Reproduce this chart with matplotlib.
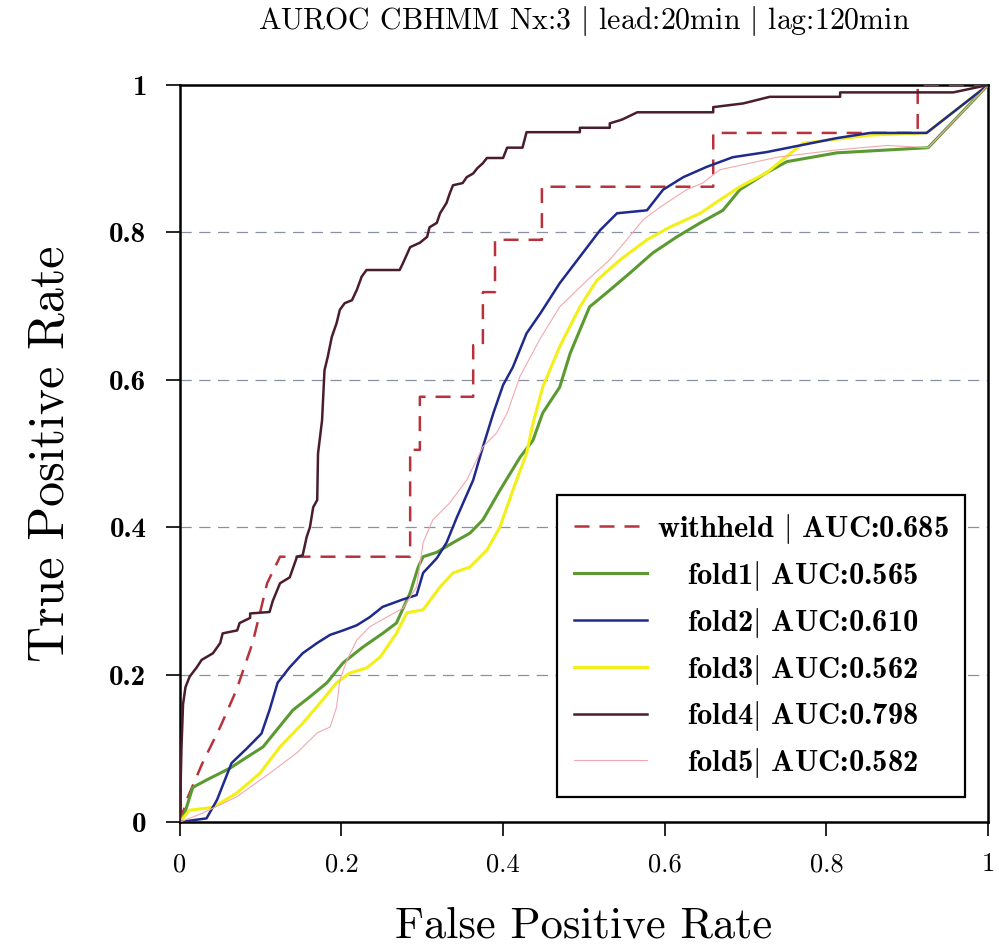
import matplotlib
matplotlib.use("Agg")
import matplotlib.pyplot as plt
import numpy as np

plt.rcParams["mathtext.fontset"] = "cm"
plt.rcParams["axes.formatter.use_mathtext"] = True

# ROC curves (false positive rate, true positive rate)
withheld_fpr = [0.0, 0.010, 0.028, 0.050, 0.070, 0.090, 0.101, 0.108, 0.124, 0.285, 0.285, 0.297,
                0.297, 0.363, 0.363, 0.375, 0.375, 0.390, 0.390, 0.448, 0.448, 0.660, 0.660, 0.913,
                0.913, 1.0]
withheld_tpr = [0.0, 0.034, 0.080, 0.129, 0.179, 0.243, 0.292, 0.324, 0.360, 0.360, 0.505, 0.505,
                0.577, 0.577, 0.647, 0.647, 0.719, 0.719, 0.790, 0.790, 0.862, 0.862, 0.935, 0.935,
                1.0, 1.0]

fold1_fpr = [0.0, 0.006, 0.016, 0.033, 0.062, 0.083, 0.103, 0.120, 0.140, 0.161, 0.182, 0.202,
             0.226, 0.251, 0.268, 0.285, 0.295, 0.301, 0.318, 0.338, 0.359, 0.375, 0.396, 0.421,
             0.437, 0.449, 0.470, 0.483, 0.507, 0.528, 0.557, 0.585, 0.615, 0.644, 0.672, 0.693,
             0.726, 0.751, 0.813, 0.926, 1.0]
fold1_tpr = [0.0, 0.012, 0.047, 0.057, 0.073, 0.088, 0.102, 0.125, 0.152, 0.170, 0.189, 0.216,
             0.237, 0.256, 0.270, 0.311, 0.346, 0.360, 0.366, 0.379, 0.392, 0.410, 0.450, 0.495,
             0.518, 0.555, 0.590, 0.636, 0.699, 0.718, 0.745, 0.772, 0.794, 0.813, 0.830, 0.858,
             0.881, 0.896, 0.908, 0.915, 1.0]

fold2_fpr = [0.0, 0.033, 0.046, 0.064, 0.083, 0.101, 0.111, 0.121, 0.136, 0.152, 0.170, 0.186,
             0.202, 0.219, 0.235, 0.251, 0.276, 0.293, 0.301, 0.318, 0.330, 0.343, 0.363, 0.375,
             0.388, 0.400, 0.412, 0.429, 0.446, 0.470, 0.495, 0.520, 0.541, 0.578, 0.598, 0.623,
             0.652, 0.684, 0.726, 0.813, 0.854, 0.924, 1.0]
fold2_tpr = [0.0, 0.005, 0.030, 0.080, 0.100, 0.120, 0.152, 0.189, 0.210, 0.229, 0.243, 0.254,
             0.260, 0.267, 0.278, 0.292, 0.302, 0.308, 0.338, 0.358, 0.379, 0.414, 0.464, 0.509,
             0.555, 0.593, 0.617, 0.663, 0.690, 0.731, 0.767, 0.803, 0.826, 0.830, 0.858, 0.875,
             0.889, 0.902, 0.909, 0.928, 0.935, 0.935, 1.0]

fold3_fpr = [0.0, 0.012, 0.041, 0.070, 0.099, 0.124, 0.152, 0.177, 0.194, 0.210, 0.231, 0.248,
             0.268, 0.281, 0.301, 0.322, 0.338, 0.359, 0.380, 0.396, 0.412, 0.429, 0.437, 0.449,
             0.470, 0.495, 0.516, 0.545, 0.578, 0.606, 0.644, 0.668, 0.693, 0.726, 0.771, 0.854,
             0.924, 1.0]
fold3_tpr = [0.0, 0.016, 0.020, 0.039, 0.066, 0.102, 0.134, 0.166, 0.189, 0.202, 0.209, 0.224,
             0.256, 0.284, 0.288, 0.319, 0.338, 0.346, 0.369, 0.400, 0.450, 0.500, 0.541, 0.590,
             0.645, 0.699, 0.735, 0.763, 0.790, 0.807, 0.826, 0.844, 0.862, 0.881, 0.921, 0.932,
             0.935, 1.0]

fold4_fpr = [0.0, 0.002, 0.004, 0.007, 0.012, 0.021, 0.027, 0.041, 0.050, 0.053, 0.071, 0.074,
             0.087, 0.087, 0.111, 0.115, 0.124, 0.136, 0.145, 0.152, 0.157, 0.161, 0.165, 0.170,
             0.171, 0.176, 0.179, 0.183, 0.188, 0.194, 0.198, 0.204, 0.213, 0.219, 0.225, 0.231,
             0.272, 0.276, 0.285, 0.297, 0.306, 0.309, 0.318, 0.322, 0.330, 0.334, 0.338, 0.350,
             0.355, 0.363, 0.368, 0.375, 0.380, 0.400, 0.405, 0.424, 0.429, 0.495, 0.495, 0.532,
             0.532, 0.547, 0.566, 0.660, 0.660, 0.697, 0.730, 0.817, 0.817, 0.957, 1.0]
fold4_tpr = [0.0, 0.100, 0.160, 0.183, 0.197, 0.210, 0.220, 0.229, 0.243, 0.256, 0.260, 0.270,
             0.277, 0.283, 0.285, 0.300, 0.324, 0.332, 0.360, 0.362, 0.387, 0.400, 0.427, 0.437,
             0.500, 0.545, 0.613, 0.631, 0.658, 0.677, 0.695, 0.704, 0.708, 0.722, 0.740, 0.749,
             0.749, 0.758, 0.780, 0.786, 0.794, 0.807, 0.813, 0.826, 0.840, 0.853, 0.864, 0.867,
             0.875, 0.880, 0.887, 0.894, 0.901, 0.901, 0.915, 0.915, 0.936, 0.936, 0.942, 0.942,
             0.948, 0.953, 0.963, 0.963, 0.970, 0.975, 0.984, 0.984, 0.990, 0.990, 1.0]

fold5_fpr = [0.0, 0.028, 0.070, 0.111, 0.145, 0.170, 0.186, 0.194, 0.198, 0.207, 0.219, 0.235,
             0.256, 0.276, 0.293, 0.301, 0.313, 0.334, 0.355, 0.375, 0.392, 0.405, 0.421, 0.446,
             0.470, 0.504, 0.532, 0.553, 0.573, 0.594, 0.627, 0.647, 0.668, 0.739, 0.813, 0.875,
             0.926, 1.0]
fold5_tpr = [0.0, 0.012, 0.034, 0.066, 0.094, 0.121, 0.129, 0.156, 0.193, 0.220, 0.247, 0.265,
             0.278, 0.290, 0.319, 0.379, 0.410, 0.433, 0.464, 0.509, 0.528, 0.555, 0.605, 0.656,
             0.699, 0.735, 0.763, 0.790, 0.817, 0.834, 0.858, 0.867, 0.885, 0.902, 0.912, 0.918,
             0.915, 1.0]

labels = [r"withheld $|$ AUC:0.685", r"fold1$|$ AUC:0.565", r"fold2$|$ AUC:0.610",
          r"fold3$|$ AUC:0.562", r"fold4$|$ AUC:0.798", r"fold5$|$ AUC:0.582"]
title = r"AUROC CBHMM Nx:3 $|$ lead:20min $|$ lag:120min"
xticks = [0, 0.2, 0.4, 0.6, 0.8, 1]
yticks = [0, 0.2, 0.4, 0.6, 0.8, 1]
tick_labels = ["0", "0.2", "0.4", "0.6", "0.8", "1"]

fig = plt.figure(figsize=(9.99, 9.51), dpi=100)
ax = fig.add_axes([0.180, 0.1356, 0.809, 0.775])

ax.plot(withheld_fpr, withheld_tpr, color="#b8323c", lw=1.8, ls=(0, (6, 4)), label=labels[0], zorder=3)
ax.plot(fold1_fpr, fold1_tpr, color="#5b9a30", lw=2.2, label=labels[1], zorder=4)
ax.plot(fold2_fpr, fold2_tpr, color="#1f2a8c", lw=1.8, label=labels[2], zorder=5)
ax.plot(fold3_fpr, fold3_tpr, color="#f2f018", lw=2.2, label=labels[3], zorder=4)
ax.plot(fold4_fpr, fold4_tpr, color="#4a1d2c", lw=1.8, label=labels[4], zorder=6)
ax.plot(fold5_fpr, fold5_tpr, color="#f2a8b0", lw=0.8, label=labels[5], zorder=5)

ax.set_xlim(0, 1)
ax.set_ylim(0, 1)
for gy in [0.2, 0.4, 0.6, 0.8]:
    ax.axhline(gy, color="#8a90a4", lw=0.9, ls=(0, (9, 6)), zorder=1)

ax.set_xticks(xticks)
ax.set_xticklabels(tick_labels, family="cmr10", fontsize=19)
ax.set_yticks(yticks)
ax.set_yticklabels(tick_labels, family="cmb10", fontsize=21)
ax.tick_params(axis="both", direction="out", length=10, width=1.2)
ax.tick_params(axis="x", pad=12)
ax.tick_params(axis="y", pad=14)
for s in ax.spines.values():
    s.set_linewidth(1.8)

ax.set_xlabel("False Positive Rate", family="cmr10", fontsize=32, labelpad=22)
ax.set_ylabel("True Positive Rate", family="cmr10", fontsize=36, labelpad=26)
ax.set_title(title, family="cmr10", fontsize=21.5, pad=40)

leg = ax.legend(loc="lower right", bbox_to_anchor=(0.972, 0.034), borderaxespad=0,
                prop={"family": "cmb10", "size": 22}, handlelength=2.4, handletextpad=0.3,
                labelspacing=0.42, borderpad=0.55, fancybox=False, framealpha=1,
                edgecolor="black")
leg.get_frame().set_linewidth(1.6)

# center the label texts within the legend column
fig.canvas.draw()
renderer = fig.canvas.get_renderer()
widths = [t.get_window_extent(renderer).width for t in leg.get_texts()]
wmax = max(widths)
column = leg._legend_handle_box.get_children()[0]
for row, w in zip(column.get_children(), widths):
    row.sep = row.sep + (wmax - w) / 2 * 72.0 / fig.dpi

fig.savefig("out.png", dpi=100)
